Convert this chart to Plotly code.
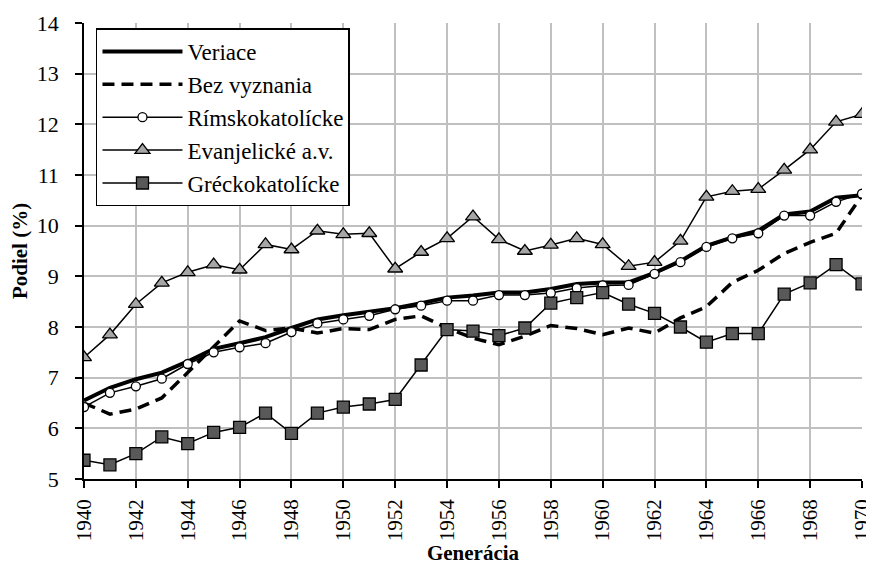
import plotly.graph_objects as go

years = list(range(1940, 1971))

veriace = [6.55, 6.80, 6.97, 7.10, 7.32, 7.57, 7.68, 7.80, 7.98, 8.15, 8.23, 8.30, 8.37, 8.47, 8.58, 8.62,
           8.68, 8.68, 8.75, 8.85, 8.88, 8.88, 9.07, 9.30, 9.60, 9.77, 9.90, 10.22, 10.28, 10.55, 10.60]
bez_vyznania = [6.50, 6.28, 6.38, 6.60, 7.10, 7.60, 8.12, 7.93, 7.98, 7.88, 7.97, 7.95, 8.15, 8.22, 7.98, 7.78,
                7.65, 7.82, 8.03, 7.97, 7.85, 7.98, 7.88, 8.18, 8.40, 8.88, 9.12, 9.45, 9.67, 9.85, 10.60]
rimsko = [6.42, 6.70, 6.83, 6.98, 7.27, 7.50, 7.60, 7.68, 7.90, 8.07, 8.15, 8.22, 8.35, 8.42, 8.52, 8.52,
          8.63, 8.63, 8.67, 8.77, 8.82, 8.83, 9.05, 9.28, 9.58, 9.75, 9.85, 10.20, 10.20, 10.47, 10.63]
evanj = [7.40, 7.85, 8.45, 8.87, 9.08, 9.23, 9.13, 9.63, 9.53, 9.90, 9.83, 9.85, 9.15, 9.48, 9.75, 10.18,
         9.73, 9.50, 9.62, 9.75, 9.63, 9.20, 9.28, 9.70, 10.57, 10.68, 10.72, 11.10, 11.50, 12.05, 12.20]
grecko = [5.37, 5.28, 5.50, 5.83, 5.70, 5.92, 6.02, 6.30, 5.90, 6.30, 6.42, 6.48, 6.57, 7.25, 7.95, 7.92,
          7.83, 7.98, 8.47, 8.58, 8.68, 8.45, 8.27, 8.00, 7.70, 7.87, 7.87, 8.65, 8.87, 9.23, 8.85]

x_ticks = list(range(1940, 1971, 2))
y_ticks = list(range(5, 15))

FONT = "Liberation Serif, Times New Roman, Times, serif"

fig = go.Figure()
fig.add_trace(go.Scatter(x=years, y=veriace, name="Veriace", mode="lines",
                         line=dict(color="black", width=4)))
fig.add_trace(go.Scatter(x=years, y=bez_vyznania, name="Bez vyznania", mode="lines",
                         line=dict(color="black", width=3.5, dash="12px,7px")))
fig.add_trace(go.Scatter(x=years, y=rimsko, name="Rímskokatolícke", mode="lines+markers",
                         line=dict(color="black", width=1.5),
                         marker=dict(symbol="circle", size=9, color="white",
                                     line=dict(color="black", width=1.3))))
fig.add_trace(go.Scatter(x=years, y=evanj, name="Evanjelické a.v.", mode="lines+markers",
                         line=dict(color="black", width=1.5),
                         marker=dict(symbol="triangle-up", size=13, color="#a6a6a6",
                                     line=dict(color="black", width=1.3))))
fig.add_trace(go.Scatter(x=years, y=grecko, name="Gréckokatolícke", mode="lines+markers",
                         line=dict(color="black", width=1.5),
                         marker=dict(symbol="square", size=12, color="#595959",
                                     line=dict(color="black", width=1.3))))

fig.update_layout(
    width=866, height=566,
    margin=dict(l=76, r=12, t=15, b=95),
    paper_bgcolor="white", plot_bgcolor="white",
    font=dict(family=FONT, size=22, color="black"),
    showlegend=True,
    legend=dict(x=0.0154, y=0.988, xanchor="left", yanchor="top",
                bgcolor="white", bordercolor="black", borderwidth=1.5,
                font=dict(family=FONT, size=23, color="black"),
                itemwidth=80, tracegroupgap=0),
)
fig.update_xaxes(
    range=[1940, 1970], tickvals=x_ticks, ticktext=[str(v) for v in x_ticks],
    tickangle=-90, showgrid=True, gridcolor="#c0c0c0", gridwidth=1.5,
    showline=True, linecolor="black", linewidth=1.5,
    ticks="outside", ticklen=7, tickcolor="black", tickwidth=1.5,
    tickfont=dict(family=FONT, size=21), ticklabeloverflow="allow",
    ticklabelstandoff=3, automargin=False,
    title=dict(text="<b>Generácia</b>", font=dict(family=FONT, size=21), standoff=0),
    zeroline=False,
)
fig.update_yaxes(
    range=[5, 14], tickvals=y_ticks, showgrid=True, gridcolor="#c0c0c0", gridwidth=1.5,
    showline=True, linecolor="black", linewidth=1.5,
    ticks="outside", ticklen=7, tickcolor="black", tickwidth=1.5,
    tickfont=dict(family=FONT, size=22), ticklabelstandoff=12, automargin=False,
    title=dict(text="<b>Podiel (%)</b>", font=dict(family=FONT, size=21), standoff=12),
    zeroline=False,
)

fig.write_html("out.html")
